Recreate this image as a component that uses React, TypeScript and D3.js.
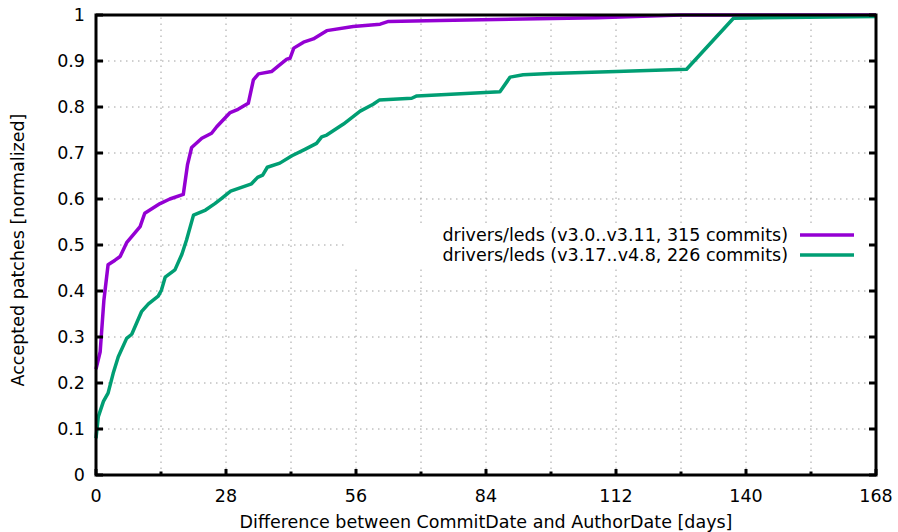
import React from "react";
import * as d3 from "d3";

const oldDays = [0, 0.9, 1.7, 2.6, 4.1, 5.2, 6.6, 9.5, 10.5, 13.8, 15.9, 18.8, 19.7, 20.6, 22.8, 24.9, 26.0, 28.9, 30.6, 32.8, 33.9, 35.0, 37.8, 39.5, 41.1, 41.8, 42.6, 44.7, 46.8, 49.7, 55.4, 61.2, 63.0, 74, 108, 126, 168];
const oldValues = [0.23, 0.268, 0.38, 0.457, 0.467, 0.475, 0.505, 0.54, 0.569, 0.59, 0.6, 0.61, 0.674, 0.712, 0.732, 0.743, 0.757, 0.788, 0.795, 0.808, 0.859, 0.872, 0.877, 0.891, 0.904, 0.906, 0.928, 0.941, 0.948, 0.966, 0.975, 0.98, 0.986, 0.988, 0.994, 1.0, 1.0];

const newDays = [0, 0.5, 1.6, 2.6, 3.7, 4.8, 6.6, 7.7, 9.8, 11.3, 13.4, 14.1, 14.9, 17.0, 18.5, 19.5, 21.0, 23.6, 25.6, 27.0, 29.0, 33.5, 34.8, 35.9, 36.9, 39.6, 42.2, 45.0, 47.5, 48.6, 49.7, 53.3, 56.9, 59.7, 61.0, 68.0, 69.1, 87.0, 89.2, 92.0, 97.8, 112.1, 127.2, 137.3, 168];
const newValues = [0.08, 0.127, 0.16, 0.178, 0.221, 0.257, 0.297, 0.306, 0.355, 0.372, 0.389, 0.402, 0.43, 0.446, 0.48, 0.511, 0.565, 0.576, 0.59, 0.601, 0.617, 0.633, 0.647, 0.652, 0.669, 0.678, 0.694, 0.708, 0.721, 0.735, 0.739, 0.763, 0.791, 0.806, 0.815, 0.819, 0.824, 0.833, 0.865, 0.87, 0.873, 0.877, 0.882, 0.993, 0.997];

const seriesLabels = [
  "drivers/leds (v3.0..v3.11, 315 commits)",
  "drivers/leds (v3.17..v4.8, 226 commits)",
];
const seriesColors = ["#9400d3", "#009e73"];

const xMajorTicks = [0, 28, 56, 84, 112, 140, 168];
const xMinorTicks = [14, 42, 70, 98, 126, 154];
const yTicks = [0, 0.1, 0.2, 0.3, 0.4, 0.5, 0.6, 0.7, 0.8, 0.9, 1];

const width = 898;
const height = 532;
const margin = { left: 96, right: 22, top: 15, bottom: 57 };
const fontSize = 17.5;

export default function App() {
  const x = d3.scaleLinear().domain([0, 168]).range([margin.left, width - margin.right]);
  const y = d3.scaleLinear().domain([0, 1]).range([height - margin.bottom, margin.top]);

  const line = d3
    .line<[number, number]>()
    .x((d) => x(d[0]))
    .y((d) => y(d[1]));

  const series = [
    d3.zip(oldDays, oldValues) as [number, number][],
    d3.zip(newDays, newValues) as [number, number][],
  ];

  const [x0, x1] = x.range();
  const [yb, yt] = y.range();
  const font = "'DejaVu Sans', sans-serif";
  const gridStyle = { stroke: "#a0a0a0", strokeWidth: 1, strokeDasharray: "1.5,4.5" };

  return (
    <svg
      width={width}
      height={height}
      style={{ position: "absolute", left: 0, top: 0, background: "#fff" }}
      fontFamily={font}
      fontSize={fontSize}
    >
      {/* grid */}
      {[...xMajorTicks, ...xMinorTicks]
        .filter((t) => t > 0 && t < 168)
        .map((t) => (
          <line key={"gx" + t} x1={x(t)} x2={x(t)} y1={yb} y2={yt} {...gridStyle} />
        ))}
      {yTicks
        .filter((t) => t > 0 && t < 1)
        .map((t) => (
          <line key={"gy" + t} x1={x0} x2={x1} y1={y(t)} y2={y(t)} {...gridStyle} />
        ))}

      {/* key background hides the grid */}
      <rect x={347} y={225} width={x1 - 347 - 2} height={43} fill="#fff" />

      {/* curves */}
      {series.map((s, i) => (
        <path
          key={"s" + i}
          d={line(s) || ""}
          fill="none"
          stroke={seriesColors[i]}
          strokeWidth={3.5}
          strokeLinejoin="round"
        />
      ))}

      {/* ticks */}
      {yTicks.map((t) => (
        <g key={"ty" + t}>
          <line x1={x0} x2={x0 + 7} y1={y(t)} y2={y(t)} stroke="#000" strokeWidth={3} />
          <line x1={x1} x2={x1 - 7} y1={y(t)} y2={y(t)} stroke="#000" strokeWidth={3} />
          <text x={x0 - 11} y={y(t)} dy="0.36em" textAnchor="end">
            {d3.format("")(t)}
          </text>
        </g>
      ))}
      {xMajorTicks.map((t) => (
        <g key={"tx" + t}>
          <line x1={x(t)} x2={x(t)} y1={yb} y2={yb - 6} stroke="#000" strokeWidth={3} />
          <text x={x(t)} y={yb + 27} textAnchor="middle">
            {t}
          </text>
        </g>
      ))}
      {xMinorTicks.map((t) => (
        <line key={"mx" + t} x1={x(t)} x2={x(t)} y1={yb} y2={yb - 3.5} stroke="#000" strokeWidth={3} />
      ))}

      {/* border */}
      <rect x={x0} y={yt} width={x1 - x0} height={yb - yt} fill="none" stroke="#000" strokeWidth={3} />

      {/* key */}
      {seriesLabels.map((label, i) => (
        <g key={"k" + i}>
          <text x={788} y={241 + i * 20} textAnchor="end">
            {label}
          </text>
          <line x1={800} x2={854} y1={235 + i * 20} y2={235 + i * 20} stroke={seriesColors[i]} strokeWidth={3.5} />
        </g>
      ))}

      {/* axis titles */}
      <text x={(x0 + x1) / 2} y={528} textAnchor="middle">
        Difference between CommitDate and AuthorDate [days]
      </text>
      <text transform={`translate(24,250) rotate(-90)`} textAnchor="middle">
        Accepted patches [normalized]
      </text>
    </svg>
  );
}
